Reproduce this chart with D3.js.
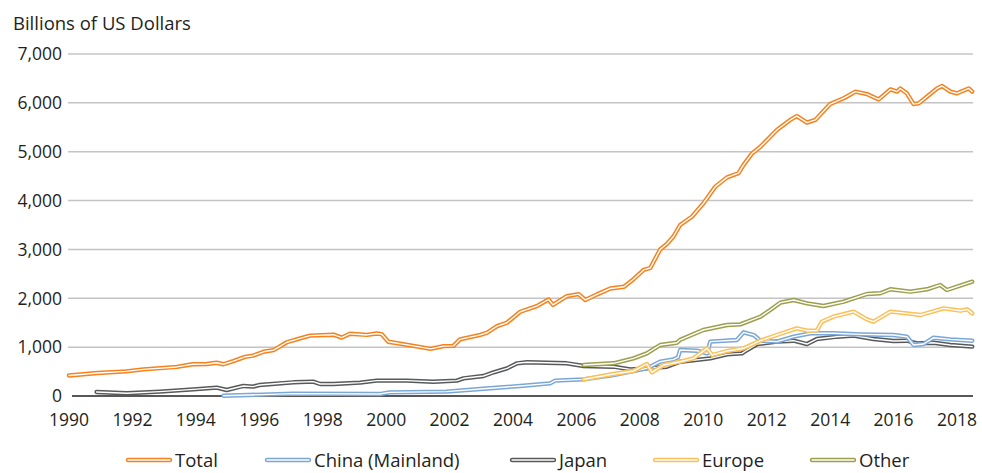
<!DOCTYPE html>
<html><head><meta charset="utf-8">
<script src="https://cdn.jsdelivr.net/npm/d3@7"></script>
<style>
html,body{margin:0;padding:0;background:#fff;}
svg text{font-family:"Open Sans","Noto Sans",sans-serif;fill:#231f20;}
</style></head>
<body><svg id="c" width="982" height="473"></svg>
<script>
const yTicks = [0,1000,2000,3000,4000,5000,6000,7000];
const xTicks = [1990,1992,1994,1996,1998,2000,2002,2004,2006,2008,2010,2012,2014,2016,2018];
const seriesNames = ["Total","China (Mainland)","Japan","Europe","Other"];
const seriesColors = ["#f5821f","#7ba7d7","#58595b","#fdbf57","#9c9f4c"];

const total = [[1990.0,420],[1990.9,470],[1991.8,505],[1992.35,545],[1993.4,595],[1993.9,650],[1994.35,655],[1994.65,680],[1994.87,650],[1995.18,715],[1995.55,800],[1995.8,825],[1996.13,905],[1996.45,940],[1996.6,995],[1996.87,1100],[1997.18,1160],[1997.6,1235],[1998.34,1255],[1998.6,1195],[1998.86,1275],[1999.4,1250],[1999.7,1280],[1999.86,1265],[2000.07,1110],[2000.86,1025],[2001.4,965],[2001.81,1020],[2002.12,1025],[2002.33,1160],[2002.97,1250],[2003.18,1295],[2003.5,1430],[2003.81,1500],[2004.23,1725],[2004.75,1840],[2005.12,1975],[2005.26,1865],[2005.7,2045],[2006.07,2085],[2006.28,1965],[2006.65,2080],[2007.07,2200],[2007.5,2235],[2007.8,2390],[2008.12,2580],[2008.33,2620],[2008.64,3000],[2008.85,3110],[2009.06,3265],[2009.27,3500],[2009.64,3670],[2010.0,3940],[2010.38,4285],[2010.75,4475],[2011.11,4560],[2011.27,4730],[2011.54,4965],[2011.8,5100],[2012.32,5445],[2012.74,5650],[2012.95,5730],[2013.27,5595],[2013.53,5650],[2014.0,5975],[2014.43,6095],[2014.8,6230],[2015.16,6180],[2015.53,6070],[2015.9,6275],[2016.11,6230],[2016.21,6295],[2016.42,6195],[2016.63,5975],[2016.79,5990],[2017.05,6125],[2017.37,6295],[2017.53,6345],[2017.79,6230],[2018.0,6195],[2018.37,6295],[2018.48,6230]];

const china = [[1994.87,5],[1997.08,48],[1999.8,40],[2000.1,75],[2001.9,89],[2002.97,143],[2004.23,205],[2005.17,259],[2005.33,314],[2006.23,341],[2007.17,430],[2008.22,566],[2008.64,702],[2009.06,750],[2009.2,790],[2009.27,941],[2009.8,927],[2010.12,873],[2010.22,1112],[2011.06,1146],[2011.27,1303],[2011.59,1248],[2011.8,1132],[2012.32,1112],[2012.85,1214],[2013.38,1283],[2014.1,1283],[2014.95,1262],[2016.0,1248],[2016.42,1214],[2016.63,1044],[2016.95,1064],[2017.26,1193],[2017.79,1160],[2018.48,1132]];

const japan = [[1990.87,82],[1991.82,55],[1992.87,89],[1993.92,136],[1994.66,171],[1994.97,123],[1995.5,205],[1995.8,191],[1996.0,225],[1997.08,280],[1997.7,294],[1997.92,246],[1998.34,246],[1999.18,273],[1999.7,314],[2000.65,314],[2001.49,293],[2002.23,314],[2002.44,362],[2003.07,409],[2003.39,485],[2003.81,566],[2004.13,669],[2004.44,690],[2005.07,682],[2005.7,669],[2006.23,614],[2007.17,600],[2007.7,546],[2008.22,566],[2008.85,600],[2009.27,702],[2010.22,771],[2010.75,853],[2011.22,873],[2011.38,941],[2011.7,1064],[2012.32,1112],[2012.85,1132],[2013.27,1064],[2013.58,1166],[2014.21,1214],[2014.74,1235],[2015.37,1166],[2016.0,1125],[2016.42,1132],[2016.74,1078],[2017.26,1091],[2017.79,1044],[2018.48,1010]];

const europe = [[2006.23,341],[2007.17,450],[2007.8,512],[2008.22,655],[2008.38,485],[2008.75,634],[2009.27,702],[2009.69,771],[2010.12,976],[2010.28,839],[2010.75,921],[2011.27,976],[2011.8,1132],[2012.32,1248],[2012.95,1385],[2013.27,1337],[2013.58,1340],[2013.74,1521],[2014.1,1623],[2014.74,1726],[2015.16,1569],[2015.37,1521],[2015.9,1726],[2016.42,1692],[2016.85,1658],[2017.58,1794],[2018.11,1746],[2018.32,1774],[2018.48,1692]];

const other = [[2006.23,634],[2007.17,669],[2007.8,771],[2008.22,873],[2008.64,1044],[2009.17,1091],[2009.27,1150],[2010.0,1351],[2010.75,1453],[2011.17,1467],[2011.8,1623],[2012.11,1760],[2012.43,1910],[2012.85,1965],[2013.27,1897],[2013.79,1842],[2014.43,1930],[2015.16,2088],[2015.58,2102],[2015.9,2184],[2016.53,2135],[2017.05,2184],[2017.47,2272],[2017.68,2170],[2018.48,2340]];

const seriesData = [total, china, japan, europe, other];

const svg = d3.select("#c");
const x = d3.scaleLinear().domain([1990, 2018]).range([69, 957]);
const y = d3.scaleLinear().domain([0, 7000]).range([396, 54]);
const xRight = 973;

svg.append("g").selectAll("line").data(yTicks.filter(d => d > 0)).join("line")
  .attr("x1", 68).attr("x2", xRight)
  .attr("y1", d => y(d)).attr("y2", d => y(d))
  .attr("stroke", "#c4c4c4").attr("stroke-width", 1.5);

svg.append("line").attr("x1", 72).attr("x2", xRight)
  .attr("y1", y(0)).attr("y2", y(0))
  .attr("stroke", "#231f20").attr("stroke-width", 1.5);

svg.append("g").selectAll("text").data(yTicks).join("text")
  .attr("x", 62).attr("y", d => y(d)).attr("dy", "0.36em")
  .attr("text-anchor", "end").attr("font-size", 17.5)
  .text(d => d3.format(",")(d));

svg.append("g").selectAll("text").data(xTicks).join("text")
  .attr("x", d => x(d)).attr("y", 420).attr("dy", "0.36em")
  .attr("text-anchor", "middle").attr("font-size", 17.5)
  .text(d => d);

svg.append("text").attr("x", 13).attr("y", 23).attr("dy", "0.36em")
  .attr("font-size", 18.5).text("Billions of US Dollars");

const line = d3.line().x(d => x(d[0])).y(d => y(d[1])).curve(d3.curveLinear);

const drawOrder = [2, 1, 3, 4, 0];
drawOrder.forEach(i => {
  const g = svg.append("g");
  g.append("path").datum(seriesData[i]).attr("d", line)
    .attr("fill", "none").attr("stroke", seriesColors[i]).attr("stroke-width", 4.4)
    .attr("stroke-linejoin", "round").attr("stroke-linecap", "round");
  g.append("path").datum(seriesData[i]).attr("d", line)
    .attr("fill", "none").attr("stroke", "#fff").attr("stroke-width", 1.4)
    .attr("stroke-linejoin", "round").attr("stroke-linecap", "round");
});

const legendX = [128, 267, 512, 655, 812];
const lg = svg.append("g").selectAll("g").data(seriesNames).join("g")
  .attr("transform", (d, i) => `translate(${legendX[i]},460)`);
lg.append("line").attr("x1", 0).attr("x2", 42).attr("y1", 0).attr("y2", 0)
  .attr("stroke", (d, i) => seriesColors[i]).attr("stroke-width", 4.4).attr("stroke-linecap", "round");
lg.append("line").attr("x1", 0).attr("x2", 42).attr("y1", 0).attr("y2", 0)
  .attr("stroke", "#fff").attr("stroke-width", 1.4).attr("stroke-linecap", "round");
lg.append("text").attr("x", 47).attr("y", 0).attr("dy", "0.36em")
  .attr("font-size", 18.5).text(d => d);
</script></body></html>
